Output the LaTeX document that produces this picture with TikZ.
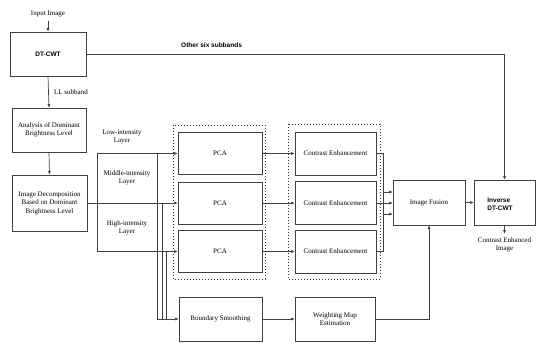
\documentclass[tikz,border=0pt]{standalone}
\usepackage{fontspec}
\setmainfont{Liberation Serif}
\setsansfont{Liberation Sans}
\usetikzlibrary{arrows.meta}

\tikzset{
  blk/.style={draw=black!75, line width=0.8pt, inner sep=1pt, outer sep=0pt,
    align=center, font=\fontsize{7}{8.5}\selectfont},
  grp/.style={draw=black!80, dotted, line width=1pt},
  wire/.style={draw=black!75, line width=0.7pt},
  flow/.style={wire, -{Latex[length=4pt,width=3pt]}},
  lbl/.style={align=center, font=\fontsize{7}{8.5}\selectfont},
  hdr/.style={font=\sffamily\bfseries\fontsize{6.5}{8}\selectfont, align=left}
}

\begin{document}
\begin{tikzpicture}[x=1pt, y=-1pt]
  \useasboundingbox (0,0) rectangle (536,345);

  % left column
  \node[lbl] (input) at (48,14) {Input Image};
  \node[blk, hdr, draw=black!75, line width=0.8pt, minimum width=76pt, minimum height=44pt] (dtcwt) at (48,54) {DT-CWT};
  \node[blk, minimum width=74pt, minimum height=44pt] (analysis) at (49,130) {Analysis of Dominant\\Brightness Level};
  \node[blk, minimum width=75pt, minimum height=56pt] (decomp) at (49.5,203) {Image Decomposition\\Based on Dominant\\Brightness Level};

  \draw[flow] (input) -- (dtcwt.north);
  \draw[flow] (dtcwt.south) -- node[lbl, right, xshift=2pt] (ll) {LL subband} (analysis.north);
  \draw[flow] (analysis.south) -- (decomp.north);

  % dotted groups
  \draw[grp] (173,125) rectangle (265,279);
  \draw[grp] (288,124) rectangle (380,279);

  % PCA and contrast enhancement
  \foreach \i/\y in {1/153.5, 2/203, 3/251.5} {
    \node[blk, minimum width=84pt, minimum height=42pt] (pca\i) at (220,\y) {PCA};
    \node[blk, minimum width=81pt, minimum height=43pt] (ce\i) at (335.5,\y) {Contrast Enhancement};
    \draw[flow] (pca\i.east) -- (ce\i.west);
  }

  % layers
  \coordinate (lowL) at (97,153.5);
  \coordinate (highL) at (97,251.5);
  \node[lbl] (lowtxt) at (122,137) {Low-intensity\\Layer};
  \node[lbl] (midtxt) at (127,178) {Middle-intensity\\Layer};
  \node[lbl] (hightxt) at (127,228) {High-intensity\\Layer};
  \draw[wire] (lowL) -- (highL);
  \draw[flow] (lowL) -- (pca1.west);
  \draw[flow] (decomp.east) -- (pca2.west);
  \draw[flow] (highL) -- (pca3.west);

  % boundary smoothing branch
  \node[blk, minimum width=83pt, minimum height=44pt] (bs) at (220.5,319) {Boundary Smoothing};
  \node[blk, minimum width=80pt, minimum height=44pt] (wme) at (335,319) {Weighting Map\\Estimation};
  \coordinate (b1) at (157,153.5);
  \coordinate (b2) at (162,203);
  \coordinate (b3) at (166,251.5);
  \draw[wire] (b1) -- (157,319);
  \draw[wire] (b2) -- (162,319);
  \draw[wire] (b3) -- (166,319);
  \draw[flow] (157,319) -- (bs.west);
  \draw[flow] (bs.east) -- (wme.west);

  % fusion and reconstruction
  \node[blk, minimum width=72pt, minimum height=45pt] (fusion) at (429,202.5) {Image Fusion};
  \node[blk, minimum width=61pt, minimum height=45pt] (inverse) at (504.5,202.5) {};
  \node[hdr] (invtxt) at (500,204) {Inverse\\DT-CWT};

  \draw[flow] (ce1.east) -- ++(7,0) |- ([yshift=-11.5pt]fusion.west);
  \draw[flow] (ce2.east) -- (ce2.east -| fusion.west);
  \draw[flow] (ce3.east) -- ++(7,0) |- ([yshift=10.5pt]fusion.west);
  \draw[flow] (wme.east) -| (fusion.south);
  \draw[flow] (fusion.east) -- (inverse.west);
  \draw[flow] (dtcwt.east) -| node[hdr, pos=0.15, above, yshift=3pt] (other) {Other six subbands} (inverse.north);

  \coordinate (outE) at (504.5,234);
  \draw[flow] (inverse.south) -- (outE);
  \node[lbl, below] (outtxt) at (outE) {Contrast Enhanced\\Image};
\end{tikzpicture}
\end{document}
